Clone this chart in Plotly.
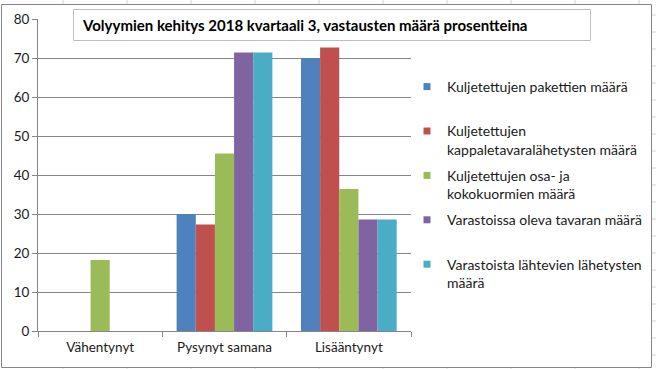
import plotly.graph_objects as go

categories = ["Vähentynyt", "Pysynyt samana", "Lisääntynyt"]
series_names = [
    "Kuljetettujen pakettien määrä",
    "Kuljetettujen<br>kappaletavaralähetysten määrä",
    "Kuljetettujen osa- ja<br>kokokuormien määrä",
    "Varastoissa oleva tavaran määrä",
    "Varastoista lähtevien lähetysten<br>määrä",
]
paketit = [0, 30.0, 70.0]
kappaletavara = [0, 27.3, 72.7]
kuormat = [18.2, 45.5, 36.4]
varastossa = [0, 71.4, 28.6]
lahtevat = [0, 71.4, 28.6]
series_values = [paketit, kappaletavara, kuormat, varastossa, lahtevat]
colors = ["#4F81BD", "#C0504D", "#9BBB59", "#8064A2", "#4BACC6"]
title_text = "Volyymien kehitys 2018 kvartaali 3, vastausten määrä prosentteina"

W, H = 656, 369
L, R, T, B = 38, 411, 19, 331


def px(x):
    return (x - L) / (R - L)


def py(y):
    return (B - y) / (B - T)


fig = go.Figure()
for i, (name, vals, col) in enumerate(zip(series_names, series_values, colors)):
    fig.add_trace(go.Bar(x=categories, y=vals, name=name, marker_color=col,
                         marker_line_width=0, showlegend=False))
    label = name if "<br>" in name else name + "<br> "
    fig.add_trace(go.Scatter(x=[None], y=[None], mode="markers", name=label,
                             marker=dict(symbol="square", size=7, color=col),
                             legendgroup=str(i), showlegend=True))

grid = "#868686"
cell = "#D4D4D4"
shapes = []
for cx in range(63, 656, 64):
    shapes.append(dict(type="line", xref="paper", yref="paper",
                       x0=px(cx), x1=px(cx), y0=py(0), y1=py(369),
                       line=dict(color=cell, width=1), layer="below"))
for cy in range(15, 369, 17):
    shapes.append(dict(type="line", xref="paper", yref="paper",
                       x0=px(652), x1=px(656), y0=py(cy), y1=py(cy),
                       line=dict(color=cell, width=1), layer="below"))
shapes.append(dict(type="rect", xref="paper", yref="paper",
                   x0=px(1.5), x1=px(651.5), y0=py(4.5), y1=py(367.5),
                   line=dict(color=grid, width=1), fillcolor="white", layer="below"))
shapes.append(dict(type="rect", xref="paper", yref="paper",
                   x0=px(73.5), x1=px(590.5), y0=py(9.5), y1=py(40.5),
                   line=dict(color="#BFBFBF", width=1), fillcolor="white", layer="above"))

fig.update_layout(
    width=W, height=H, autosize=False,
    margin=dict(l=L, r=W - R, t=T, b=H - B, pad=0, autoexpand=False),
    paper_bgcolor="white", plot_bgcolor="rgba(0,0,0,0)",
    font=dict(family="Lato", size=13.5, color="#1a1a1a"),
    barmode="group", bargap=0.23, bargroupgap=0,
    shapes=shapes,
    annotations=[dict(text="<b>" + title_text + "</b>", xref="paper", yref="paper",
                      x=px(80), y=py(24.5), xanchor="left", yanchor="middle",
                      showarrow=False, font=dict(family="Lato", size=15, color="#000"))],
    legend=dict(x=px(407), y=py(71), xanchor="left", yanchor="top",
                valign="top", tracegroupgap=5, bgcolor="rgba(0,0,0,0)",
                font=dict(family="Lato", size=14, color="#1a1a1a"),
                itemclick=False),
    xaxis=dict(showline=True, linecolor=grid, linewidth=1, ticks="outside",
               tickson="boundaries", ticklen=5, tickcolor=grid,
               showgrid=False, ticklabelstandoff=4, fixedrange=True),
    yaxis=dict(range=[0, 80], dtick=10, showline=True, linecolor=grid, linewidth=1,
               ticks="outside", ticklen=5, tickcolor=grid, showgrid=True,
               gridcolor=grid, gridwidth=1, zeroline=False, fixedrange=True),
)

fig.write_html("out.html", config={"displayModeBar": False},
               post_script="document.body.style.margin='0';document.body.style.overflow='hidden';")
